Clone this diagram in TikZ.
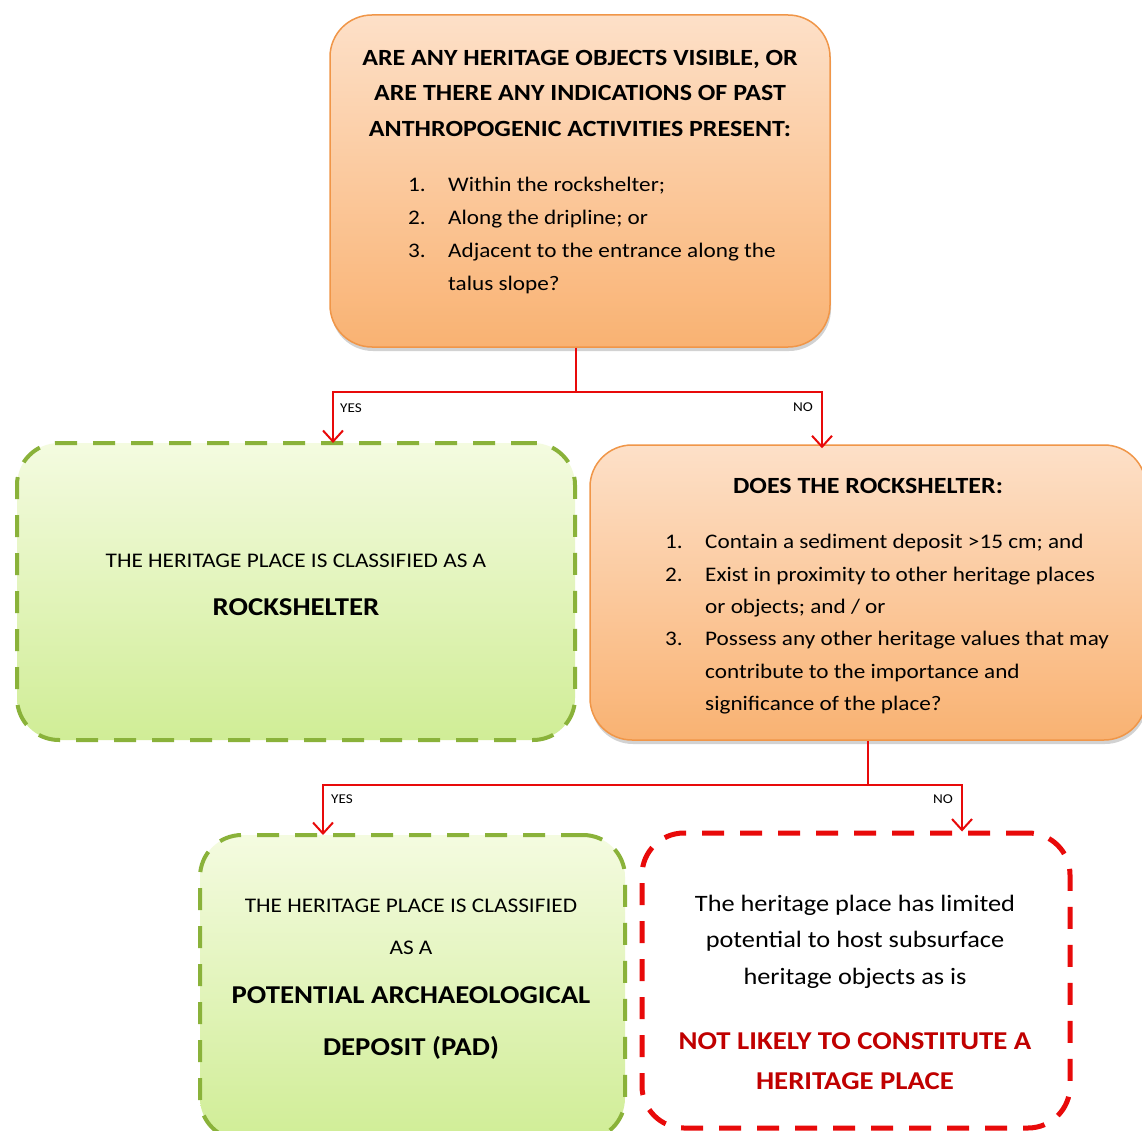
\documentclass[tikz,border=0pt]{standalone}
\usepackage{fontspec}
\setmainfont{Carlito}[FakeStretch=1.12]
\usetikzlibrary{arrows.meta,shadows}
\definecolor{orline}{RGB}{240,150,72}
\definecolor{ortop}{RGB}{253,224,200}
\definecolor{orbot}{RGB}{249,178,114}
\definecolor{grline}{RGB}{138,178,58}
\definecolor{grtop}{RGB}{244,251,224}
\definecolor{grbot}{RGB}{208,237,150}
\definecolor{cred}{RGB}{232,10,10}
\definecolor{tred}{RGB}{192,0,0}
\begin{document}
\begin{tikzpicture}[x=1pt,y=-1pt,
  orbox/.style={rectangle,draw=orline,line width=1.5pt,rounded corners=42pt,top color=ortop,bottom color=orbot,
    drop shadow={shadow xshift=1pt,shadow yshift=-4pt,opacity=0.25,fill=black!70}},
  grbox/.style={rectangle,draw=grline,line width=4pt,dash pattern=on 22pt off 16pt,rounded corners=42pt,top color=grtop,bottom color=grbot},
  rdbox/.style={rectangle,draw=cred,line width=5pt,dash pattern=on 22pt off 16pt,rounded corners=42pt,fill=white},
  conn/.style={draw=cred,line width=2pt},
  arr/.style={conn,-{Straight Barb[length=11pt,width=20pt,line width=2pt]}},
  lab/.style={font=\fontsize{13.5}{16}\selectfont,anchor=base,inner sep=0},
  ttl/.style={font=\fontsize{23.2}{27}\selectfont\bfseries,anchor=base,inner sep=0},
  capt/.style={font=\fontsize{20.8}{24}\selectfont,anchor=base,inner sep=0},
  big/.style={font=\fontsize{25.7}{30}\selectfont\bfseries,anchor=base,inner sep=0},
  txt/.style={font=\fontsize{23.5}{27}\selectfont,anchor=base,inner sep=0},
  lst/.style={anchor=north west,inner sep=0}
]
\useasboundingbox (0,0) rectangle (1142,1131);
\fill[white] (0,0) rectangle (1142,1131);

% boxes
\node[orbox,minimum width=500pt,minimum height=332pt] (top) at (580,181) {};
\node[grbox,minimum width=558pt,minimum height=297pt] (rock) at (296,591.5) {};
\node[orbox,minimum width=556pt,minimum height=295pt] (does) at (868,592.5) {};
\node[grbox,minimum width=425pt,minimum height=305pt] (pad) at (412.5,987.5) {};
\node[rdbox,minimum width=428pt,minimum height=295pt] (nol) at (856,980.5) {};

% top box text
\node[ttl] (t1) at (580,65.5) {ARE ANY HERITAGE OBJECTS VISIBLE, OR};
\node[ttl] (t2) at (580,100.5) {ARE THERE ANY INDICATIONS OF PAST};
\node[ttl] (t3) at (580,136.5) {ANTHROPOGENIC ACTIVITIES PRESENT:};
\node[lst] (t4) at (408,168.4) {\fontsize{20.7}{33}\selectfont
  \begin{tabular}{@{}p{40pt}@{}l@{}}
  1. & Within the rockshelter;\\
  2. & Along the dripline; or\\
  3. & Adjacent to the entrance along the\\
     & talus slope?
  \end{tabular}};

% rockshelter box text
\node[capt] (r1) at (296,567.5) {THE HERITAGE PLACE IS CLASSIFIED AS A};
\node[big] (r2) at (296,615) {ROCKSHELTER};

% does box text
\node[ttl] (d1) at (868,493.5) {DOES THE ROCKSHELTER:};
\node[lst] (d2) at (665,525.8) {\fontsize{20.7}{32.4}\selectfont
  \begin{tabular}{@{}p{40pt}@{}l@{}}
  1. & Contain a sediment deposit >15 cm; and\\
  2. & Exist in proximity to other heritage places\\
     & or objects; and / or\\
  3. & Possess any other heritage values that may\\
     & contribute to the importance and\\
     & significance of the place?
  \end{tabular}};

% PAD box text
\node[capt] (p1) at (411,912.5) {THE HERITAGE PLACE IS CLASSIFIED};
\node[capt] (p2) at (411,954.5) {AS A};
\node[big] (p3) at (411,1003) {POTENTIAL ARCHAEOLOGICAL};
\node[big] (p4) at (411,1055) {DEPOSIT (PAD)};

% not likely box text
\node[txt] (n1) at (855,911.5) {The heritage place has limited};
\node[txt] (n2) at (855,947.5) {potential to host subsurface};
\node[txt] (n3) at (855,984.5) {heritage objects as is};
\node[big,text=tred] (n4) at (855,1049) {NOT LIKELY TO CONSTITUTE A};
\node[big,text=tred] (n5) at (855,1089) {HERITAGE PLACE};

% connectors
\coordinate (j1) at (576,392);
\draw[conn] ([xshift=-4pt]top.south) -- (j1);
\draw[arr] (j1) -| ([xshift=37pt,yshift=-2pt]rock.north);
\draw[arr] (j1) -| ([xshift=-46pt,yshift=-4pt]does.north);
\node[lab] (y1) at (351,412) {YES};
\node[lab] (no1) at (803,411) {NO};

\coordinate (j2) at (868,785);
\draw[conn] (does.south) -- (j2);
\draw[arr] (j2) -| ([xshift=-89.5pt,yshift=-2pt]pad.north);
\draw[arr] (j2) -| ([xshift=106pt,yshift=-1pt]nol.north);
\node[lab] (y2) at (342,803) {YES};
\node[lab] (no2) at (943,803) {NO};
\end{tikzpicture}
\end{document}
